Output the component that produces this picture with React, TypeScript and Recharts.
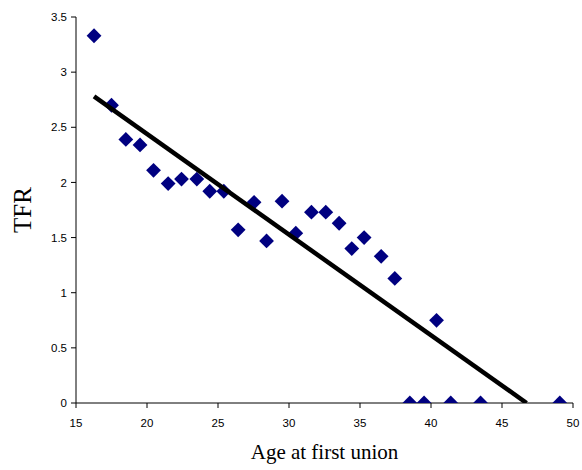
import { ScatterChart, Scatter, XAxis, YAxis, Label } from "recharts";

const ages = [
  16.27, 17.5, 18.51, 19.51, 20.46, 21.49, 22.43, 23.51, 24.42, 25.41, 26.42, 27.54, 28.42, 29.51,
  30.48, 31.58, 32.59, 33.53, 34.42, 35.29, 36.49, 37.45, 38.51, 39.51, 40.39, 41.39, 43.49, 49.07,
];
const tfr = [
  3.33, 2.7, 2.39, 2.34, 2.11, 1.99, 2.03, 2.03, 1.92, 1.92, 1.57, 1.82, 1.47, 1.83,
  1.54, 1.73, 1.73, 1.63, 1.4, 1.5, 1.33, 1.13, 0, 0, 0.75, 0, 0, 0,
];
const trendAges = [16.27, 46.73];
const trendTfr = [2.78, 0];
const xTicks = [15, 20, 25, 30, 35, 40, 45, 50];
const yTicks = [0, 0.5, 1, 1.5, 2, 2.5, 3, 3.5];

const points = ages.map((a, i) => ({ age: a, tfr: tfr[i] }));
const trend = trendAges.map((a, i) => ({ age: a, tfr: trendTfr[i] }));

const Diamond = (props: any) => {
  const { cx, cy } = props;
  const r = 7.4;
  return (
    <polygon
      points={`${cx},${cy - r} ${cx + r},${cy} ${cx},${cy + r} ${cx - r},${cy}`}
      fill="#000080"
    />
  );
};

const NoShape = () => <g />;

const tickStyle = { fontFamily: "Liberation Sans, Arial, sans-serif", fontSize: 11.5, fill: "#000" };

export default function App() {
  return (
    <div style={{ width: 582, height: 470, overflow: "hidden" }}>
      <style>{`body { margin: 0; overflow: hidden; }`}</style>
      <ScatterChart width={582} height={470} margin={{ top: 17, right: 9, left: 0, bottom: 0 }}>
        <XAxis
          type="number"
          dataKey="age"
          domain={[15, 50]}
          ticks={xTicks}
          interval={0}
          height={67}
          tickSize={5}
          tickMargin={11}
          tick={tickStyle}
          stroke="#000"
          allowDataOverflow
        >
          <Label
            value="Age at first union"
            position="insideBottom"
            offset={11}
            style={{ fontFamily: "Liberation Serif, Times New Roman, serif", fontSize: 21, fill: "#000" }}
          />
        </XAxis>
        <YAxis
          type="number"
          dataKey="tfr"
          domain={[0, 3.5]}
          ticks={yTicks}
          interval={0}
          width={76}
          tickSize={5}
          tickMargin={4}
          tick={tickStyle}
          stroke="#000"
          allowDataOverflow
        >
          <Label
            value="TFR"
            angle={-90}
            position="insideLeft"
            offset={22}
            style={{ fontFamily: "Liberation Serif, Times New Roman, serif", fontSize: 25, fill: "#000", textAnchor: "middle" }}
          />
        </YAxis>
        <Scatter data={points} shape={Diamond} isAnimationActive={false} />
        <Scatter
          data={trend}
          line={{ stroke: "#000", strokeWidth: 4.5 }}
          shape={NoShape}
          isAnimationActive={false}
        />
      </ScatterChart>
    </div>
  );
}
